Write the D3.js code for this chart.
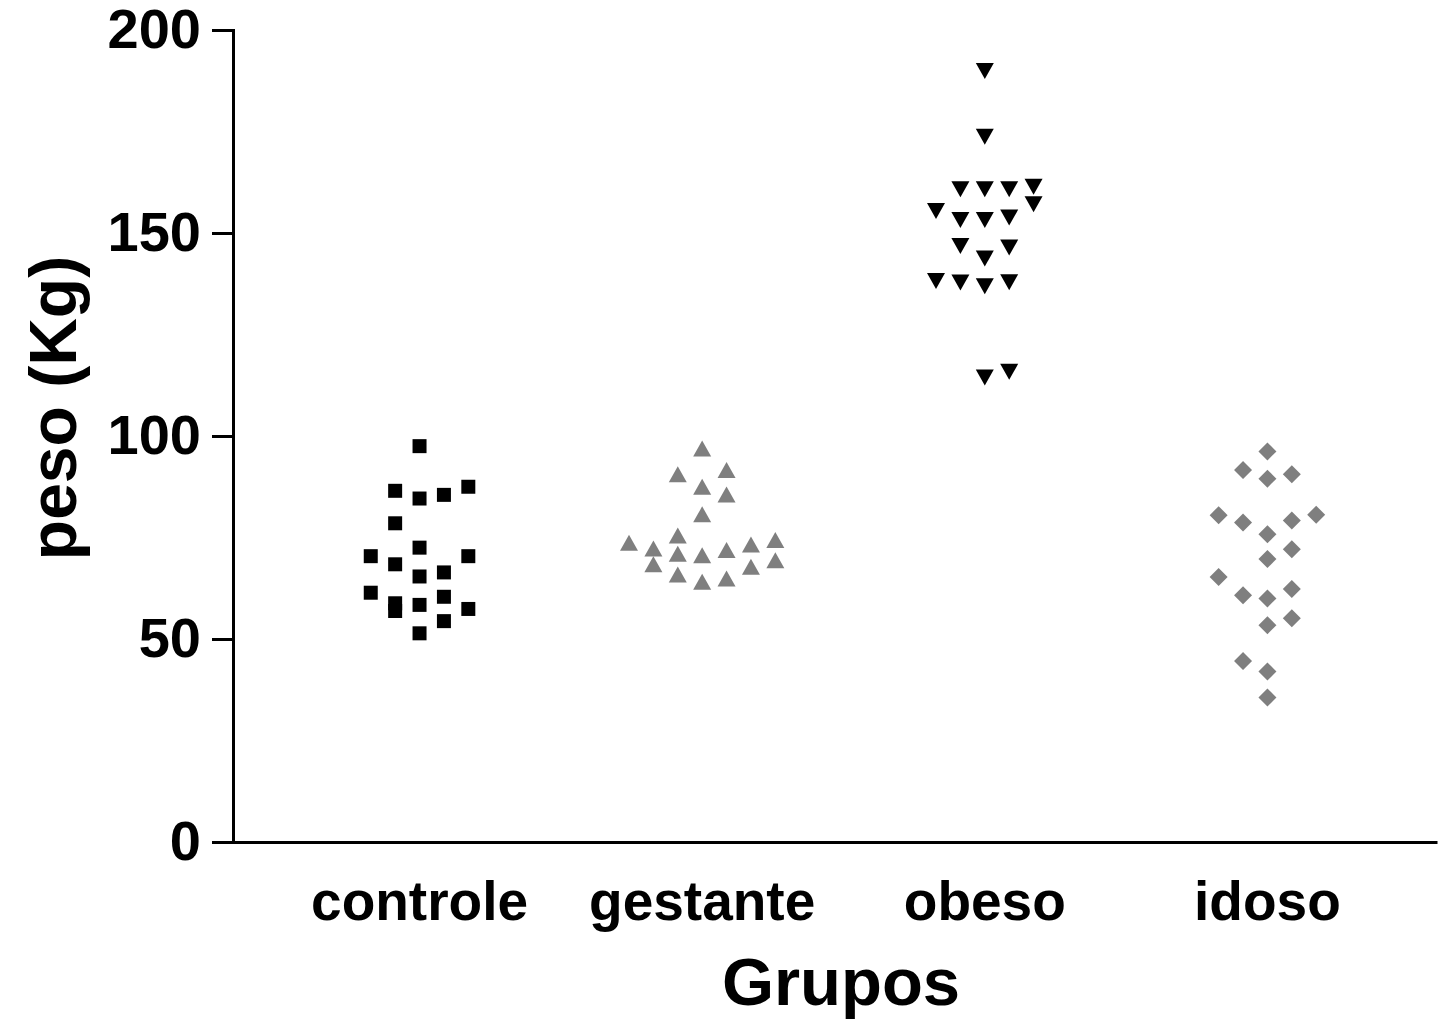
<!DOCTYPE html>
<html>
<head>
<meta charset="utf-8">
<script src="https://cdn.jsdelivr.net/npm/d3@7"></script>
<style>
  body { margin: 0; background: #fff; }
  svg text { font-family: "Liberation Sans", Arial, Helvetica, sans-serif; font-weight: bold; fill: #000; }
</style>
</head>
<body>
<div id="chart"></div>
<script>
// Groups and weights (kg); col = slot in the scatter column
var groups = ["controle", "gestante", "obeso", "idoso"];

var controle = [97.5, 86.5, 84.6, 85.5, 87.5, 78.5, 72.5, 70.4, 70.4, 68.4, 65.4, 66.4, 61.4, 58.8, 56.9, 58.4, 60.4, 57.4, 54.4, 51.4];
var controleCol = [0, -1, 0, 1, 2, -1, 0, -2, 2, -1, 0, 1, -2, -1, -1, 0, 1, 2, 1, 0];

var gestante = [96.9, 90.6, 91.6, 87.5, 85.6, 80.7, 73.7, 75.5, 72.3, 71.0, 70.6, 71.9, 73.3, 74.4, 68.4, 65.9, 64.1, 64.9, 67.8, 69.4];
var gestanteCol = [0, -1, 1, 0, 1, 0, -3, -1, -2, -1, 0, 1, 2, 3, -2, -1, 0, 1, 2, 3];

var obeso = [189.9, 173.7, 160.8, 160.8, 160.8, 161.4, 157.1, 155.4, 153.2, 153.2, 153.8, 146.8, 143.7, 146.4, 138.2, 137.8, 136.9, 137.9, 114.4, 115.8];
var obesoCol = [0, 0, -1, 0, 1, 2, 2, -2, -1, 0, 1, -1, 0, 1, -2, -1, 0, 1, 0, 1];

var idoso = [96.2, 91.6, 89.5, 90.6, 80.5, 78.7, 79.2, 80.6, 75.8, 72.1, 69.7, 65.3, 60.8, 60.0, 62.3, 53.4, 55.1, 44.6, 42.0, 35.6];
var idosoCol = [0, -1, 0, 1, -2, -1, 1, 2, 0, 1, 0, -2, -1, 0, 1, 0, 1, -1, 0, 0];

var yTicks = [0, 50, 100, 150, 200];

var W = 1439, H = 1021;
var svg = d3.select("#chart").append("svg")
    .attr("width", W)
    .attr("height", H);

var y = d3.scaleLinear().domain([0, 200]).range([842, 30]);
var x = d3.scaleLinear().domain([-0.66, 3.6]).range([233, 1437]);
var slot = 0.0863; // column spacing in category units

// custom marker shapes
var square = { draw: function(c, s) { var h = 7; c.rect(-h, -h, 2 * h, 2 * h); } };
var triUp = { draw: function(c, s) { c.moveTo(0, -8); c.lineTo(9, 8); c.lineTo(-9, 8); c.closePath(); } };
var triDown = { draw: function(c, s) { c.moveTo(-9, -8); c.lineTo(9, -8); c.lineTo(0, 8); c.closePath(); } };
var diamond = { draw: function(c, s) { var r = 9; c.moveTo(0, -r); c.lineTo(r, 0); c.lineTo(0, r); c.lineTo(-r, 0); c.closePath(); } };

var series = [
    { vals: controle, cols: controleCol, shape: square, color: "#000" },
    { vals: gestante, cols: gestanteCol, shape: triUp, color: "#7f7f7f" },
    { vals: obeso, cols: obesoCol, shape: triDown, color: "#000" },
    { vals: idoso, cols: idosoCol, shape: diamond, color: "#7f7f7f" }
];

// Y axis
var yAxis = svg.append("g")
    .attr("transform", "translate(" + x.range()[0] + ",0)")
    .call(d3.axisLeft(y).tickValues(yTicks).tickSize(21).tickSizeOuter(0).tickPadding(11));
yAxis.select(".domain").attr("stroke", "#000").attr("stroke-width", 3).attr("stroke-linecap", "square");
yAxis.selectAll(".tick line").attr("stroke", "#000").attr("stroke-width", 3);
yAxis.selectAll(".tick text")
    .attr("font-size", 56)
    .attr("font-family", "Liberation Sans, Arial, sans-serif")
    .attr("font-weight", "bold")
    .attr("fill", "#000");

// X axis (line only)
var xAxis = svg.append("g")
    .attr("transform", "translate(0," + y(0) + ")")
    .call(d3.axisBottom(x).tickValues([]).tickSizeOuter(0));
xAxis.select(".domain").attr("stroke", "#000").attr("stroke-width", 3);

// category labels
svg.selectAll(".cat")
    .data(groups)
    .enter().append("text")
    .attr("class", "cat")
    .attr("x", function(d, i) { return x(i); })
    .attr("y", 920)
    .attr("text-anchor", "middle")
    .attr("font-size", 55)
    .text(function(d) { return d; });

// axis titles
svg.append("text")
    .attr("x", 841)
    .attr("y", 1005)
    .attr("text-anchor", "middle")
    .attr("font-size", 67)
    .text("Grupos");

svg.append("text")
    .attr("transform", "translate(76," + ((y(0) + y(200)) / 2 - 28) + ") rotate(-90)")
    .attr("text-anchor", "middle")
    .attr("font-size", 66)
    .text("peso (Kg)");

// points
series.forEach(function(s, gi) {
    svg.append("g").selectAll("path")
        .data(s.vals)
        .enter().append("path")
        .attr("d", d3.symbol().type(s.shape))
        .attr("transform", function(d, i) {
            return "translate(" + x(gi + s.cols[i] * slot) + "," + y(d) + ")";
        })
        .attr("fill", s.color);
});
</script>
</body>
</html>
